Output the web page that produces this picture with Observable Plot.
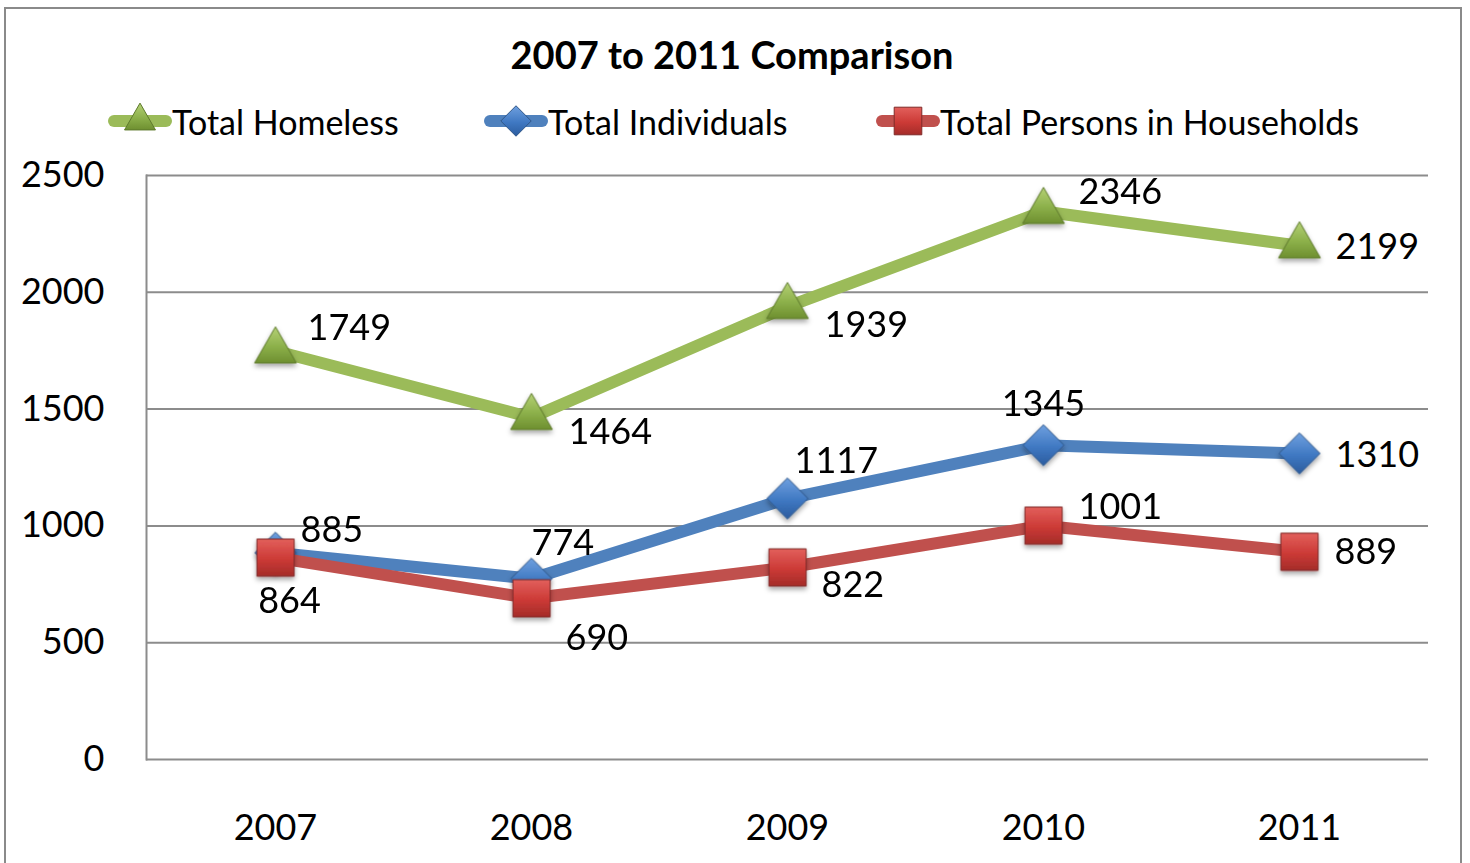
<!DOCTYPE html>
<html>
<head>
<meta charset="utf-8">
<script src="https://cdn.jsdelivr.net/npm/d3@7"></script>
<script src="https://cdn.jsdelivr.net/npm/@observablehq/plot@0.6"></script>
<style>
  html, body { margin: 0; padding: 0; background: #fff; overflow: hidden; }
  #chart { position: relative; width: 1470px; height: 863px; font-family: Lato, "Open Sans", sans-serif; }
  #border { position: absolute; left: 4px; top: 7px; width: 1458px; height: 900px; border: 2px solid #8a8a8a; box-sizing: border-box; }
  #title { position: absolute; left: 0; width: 1464px; top: 31px; text-align: center; font-weight: bold; font-size: 38px; line-height: 46px; color: #000; }
  .leg { position: absolute; top: 99px; height: 44px; display: flex; align-items: center; font-size: 34px; color: #000; white-space: nowrap; }
  .leg svg { display: block; margin-right: 0px; }
  #plot { position: absolute; left: 0; top: 150px; }
</style>
</head>
<body>
<svg width="0" height="0" style="position:absolute">
  <defs>
    <linearGradient id="gGreen" x1="0" y1="0" x2="0" y2="1">
      <stop offset="0" stop-color="#b5d176"/>
      <stop offset="0.55" stop-color="#8cb04a"/>
      <stop offset="1" stop-color="#6e8f30"/>
    </linearGradient>
    <linearGradient id="gBlue" x1="0" y1="0" x2="0" y2="1">
      <stop offset="0" stop-color="#6fa0df"/>
      <stop offset="0.55" stop-color="#3f78c2"/>
      <stop offset="1" stop-color="#2b5c9e"/>
    </linearGradient>
    <linearGradient id="gRed" x1="0" y1="0" x2="0" y2="1">
      <stop offset="0" stop-color="#e2605c"/>
      <stop offset="0.55" stop-color="#cc3a36"/>
      <stop offset="1" stop-color="#a42c29"/>
    </linearGradient>
    <filter id="shadow" x="-50%" y="-50%" width="200%" height="200%">
      <feDropShadow dx="0" dy="3" stdDeviation="2.5" flood-color="#000" flood-opacity="0.35"/>
    </filter>
  </defs>
</svg>
<div id="chart">
  <div id="border"></div>
  <div id="title">2007 to 2011 Comparison</div>
  <div id="legend"></div>
  <div id="plot"></div>
</div>
<script>
// ---- data ----
const years = ["2007", "2008", "2009", "2010", "2011"];
const seriesNames = ["Total Homeless", "Total Individuals", "Total Persons in Households"];
const totalHomeless = [1749, 1464, 1939, 2346, 2199];
const totalIndividuals = [885, 774, 1117, 1345, 1310];
const totalPersonsInHouseholds = [864, 690, 822, 1001, 889];
const yTicks = [0, 500, 1000, 1500, 2000, 2500];

// ---- styling ----
const seriesValues = [totalHomeless, totalIndividuals, totalPersonsInHouseholds];
const lineColors = ["#9bbb59", "#4f81bd", "#c0504d"];
const markerFills = ["url(#gGreen)", "url(#gBlue)", "url(#gRed)"];
const markerStrokes = ["#5e7a2c", "#2f5688", "#7f2a28"];
const markerSymbols = ["triangle", "diamond2", "square"];
const markerR = [15.5, 18.5, 21];
// label placement per point: [dx, dy, anchor]
const labelLayout = [
  [[32, -22, "start"], [37, 15, "start"], [37, 19, "start"], [35, -19, "start"], [36, 2, "start"]],
  [[25, -22, "start"], [0, -35, "start"], [7, -37, "start"], [0, -41, "middle"], [36, 2, "start"]],
  [[14, 44, "middle"], [34, 40, "start"], [34, 18, "start"], [35, -18, "start"], [35, 1, "start"]]
];

const rowsFor = (i) => years.map((y, j) => ({year: y, value: seriesValues[i][j], series: seriesNames[i], idx: j}));

const marks = [
  Plot.gridY(yTicks, {stroke: "#8c8c8c", strokeOpacity: 1, strokeWidth: 2}),
  Plot.frame({anchor: "left", stroke: "#8c8c8c", strokeWidth: 2}),
  Plot.axisY(yTicks, {tickSize: 0, tickPadding: 42, fontSize: 36, tickFormat: d => String(d)}),
  Plot.axisX({tickSize: 0, tickPadding: 55, fontSize: 36})
];
seriesNames.forEach((name, i) => {
  const rows = rowsFor(i);
  marks.push(Plot.line(rows, {x: "year", y: "value", stroke: lineColors[i], strokeWidth: 12, strokeLinejoin: "round"}));
  marks.push(Plot.dot(rows, {x: "year", y: "value", symbol: () => markerSymbols[i], r: markerR[i], fill: markerFills[i], stroke: markerStrokes[i], strokeWidth: 1}));
});
seriesNames.forEach((name, i) => {
  rowsFor(i).forEach(d => {
    const [dx, dy, anchor] = labelLayout[i][d.idx];
    marks.push(Plot.text([d], {x: "year", y: "value", text: d => String(d.value), textAnchor: anchor, dx, dy, fontSize: 36, fill: "#000"}));
  });
});

const chart = Plot.plot({
  width: 1470,
  height: 713,
  marginTop: 25,
  marginBottom: 104,
  marginLeft: 146,
  marginRight: 42,
  style: {fontFamily: "Lato, 'Open Sans', sans-serif", color: "#000", background: "transparent", overflow: "visible"},
  x: {type: "point", domain: years, padding: 0.5, label: null},
  y: {domain: [0, 2500], label: null},
  marks
});
d3.select(chart).selectAll("g[aria-label=dot]").attr("filter", "url(#shadow)");
document.getElementById("plot").appendChild(chart);

// ---- legend ----
const legendPos = [108, 484, 876];
const legend = document.getElementById("legend");
seriesNames.forEach((name, i) => {
  const div = document.createElement("div");
  div.className = "leg";
  div.style.left = legendPos[i] + "px";
  const svg = d3.create("svg").attr("width", 64).attr("height", 44);
  svg.append("line").attr("x1", 6).attr("x2", 58).attr("y1", 22).attr("y2", 22)
    .attr("stroke", lineColors[i]).attr("stroke-width", 12).attr("stroke-linecap", "round");
  const r = markerR[i];
  const sym = {triangle: d3.symbolTriangle, diamond2: d3.symbolDiamond2, square: d3.symbolSquare}[markerSymbols[i]];
  svg.append("path").attr("transform", "translate(32,22)")
    .attr("d", d3.symbol(sym, Math.PI * r * r * 0.55)())
    .attr("fill", markerFills[i]).attr("stroke", markerStrokes[i]).attr("stroke-width", 1);
  div.appendChild(svg.node());
  const span = document.createElement("span");
  span.textContent = name;
  div.appendChild(span);
  legend.appendChild(div);
});
</script>
</body>
</html>
